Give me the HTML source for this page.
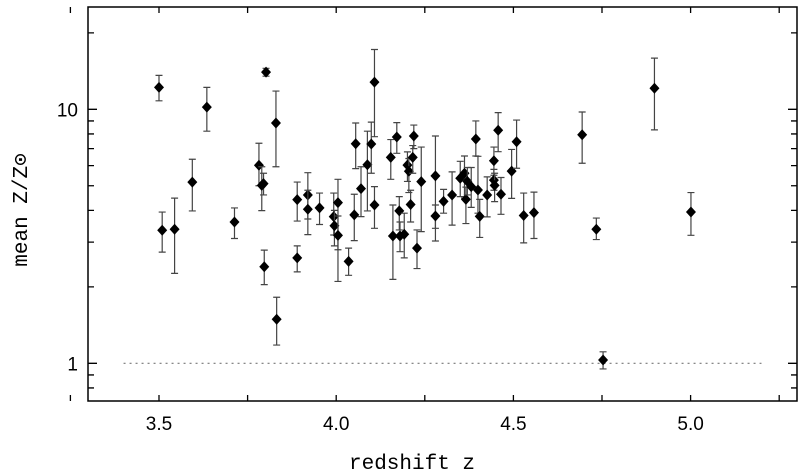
<!DOCTYPE html>
<html><head><meta charset="utf-8"><style>
html,body{margin:0;padding:0;background:#fff;}
svg{display:block;}
.tl{font-family:"Liberation Sans",sans-serif;font-size:19px;fill:#000;}
.at{font-family:"Liberation Mono",monospace;font-size:21px;fill:#000;}
</style></head><body>
<svg id="chart" width="804" height="474" viewBox="0 0 804 474" xmlns="http://www.w3.org/2000/svg">
<g id="grid"></g>
<g id="marks"></g>
<rect x="88" y="7" width="709" height="394" fill="none" stroke="#000" stroke-width="1.5"/>
<text class="at" x="412" y="469" text-anchor="middle">redshift z</text>
<text class="at" transform="translate(27,210) rotate(-90)" text-anchor="middle">mean Z/Z⊙</text>
</svg>
<script>
const redshift=[3.50,3.509,3.544,3.594,3.635,3.713,3.782,3.79,3.795,3.802,3.797,3.830,3.832,3.89,3.89,3.92,3.92,3.953,3.993,3.995,4.005,4.005,4.035,4.051,4.055,4.070,4.088,4.099,4.108,4.108,4.154,4.160,4.171,4.178,4.18,4.192,4.201,4.205,4.21,4.216,4.219,4.228,4.24,4.28,4.28,4.303,4.327,4.350,4.362,4.366,4.37,4.381,4.394,4.40,4.405,4.426,4.445,4.445,4.447,4.457,4.465,4.495,4.509,4.529,4.558,4.694,4.734,4.753,4.898,5.001];
const metal=[12.2,3.34,3.37,5.17,10.2,3.60,6.02,5.02,5.1,14.0,2.40,8.83,1.49,4.41,2.60,4.60,4.04,4.09,3.78,3.48,4.29,3.19,2.52,3.84,7.32,4.87,6.05,7.3,12.8,4.2,6.47,3.17,7.78,3.98,3.17,3.22,6.03,5.7,4.22,6.47,7.85,2.84,5.19,5.47,3.80,4.34,4.6,5.35,5.6,4.42,5.2,4.96,7.64,4.81,3.79,4.6,6.27,5.26,5.02,8.27,4.63,5.71,7.45,3.82,3.92,7.94,3.37,1.03,12.1,3.94];
const errHi=[13.6,3.94,4.47,6.36,12.2,4.09,7.35,5.94,5.6,14.5,2.79,11.8,1.82,5.17,2.90,5.63,4.8,4.68,4.68,4.0,5.3,3.8,2.84,4.63,8.83,5.94,8.2,8.9,17.2,4.96,7.6,4.2,8.86,4.53,3.6,3.9,6.8,6.4,4.8,7.2,8.67,3.35,7.1,7.85,4.2,4.84,5.67,6.24,6.55,4.94,5.9,5.9,9.0,6.53,4.42,5.42,7.1,5.8,5.6,9.7,5.39,6.95,9.07,4.68,4.72,9.76,3.73,1.11,15.9,4.70];
const errLo=[10.8,2.74,2.26,3.98,8.2,3.10,5.0,3.99,4.6,13.5,2.04,5.94,1.18,3.63,2.29,3.70,3.21,3.52,3.2,2.9,2.10,2.8,2.22,3.04,5.84,3.78,3.98,5.6,7.8,3.40,5.3,2.14,6.71,3.35,2.75,2.6,5.2,4.7,3.6,5.6,7.0,2.36,3.3,3.03,3.4,3.9,3.50,4.53,4.47,3.55,4.6,4.11,6.55,3.9,3.13,3.77,5.5,4.8,4.33,6.81,3.86,4.46,5.86,2.98,3.10,6.13,3.07,0.95,8.3,3.19];
const xTicks=[3.5,4.0,4.5,5.0];
const xTickLabels=["3.5","4.0","4.5","5.0"];
const yTicks=[1,10];
const yTickLabels=["1","10"];
const solarLine=[3.4,5.2];

const NS="http://www.w3.org/2000/svg";
const X=v=>159+(v-3.5)*354.4;
const Y=v=>109.3-Math.log10(v/10)*254;
const grid=document.getElementById('grid'), marks=document.getElementById('marks');
function el(t,a,p){const e=document.createElementNS(NS,t);for(const k in a)e.setAttribute(k,a[k]);p.appendChild(e);return e;}
// x ticks (major+minor)
for(let v=3.25;v<=5.26;v+=0.25){
  const x=X(v);
  const t=el('path',{d:`M${x},401V395M${x},7V13`,stroke:'#000','stroke-width':1.3},grid);
  
  
}
xTicks.forEach((v,i)=>{
  const t=el('text',{x:X(v),y:430,'text-anchor':'middle',class:'tl'},grid);
  t.textContent=xTickLabels[i];
  
  
});
// y ticks
[0.8,0.9,1,2,3,4,5,6,7,8,9,10,20].forEach(v=>{
  const y=Y(v);const L=(v===1||v===10)?9:6;
  const t=el('path',{d:`M88,${y}H${88+L}M797,${y}H${797-L}`,stroke:'#000','stroke-width':1.3},grid);
  
  
});
yTicks.forEach((v,i)=>{
  const t=el('text',{x:78,y:Y(v)+7,'text-anchor':'end',class:'tl'},grid);
  t.textContent=yTickLabels[i];
  
  
});
const sl=el('line',{x1:X(solarLine[0]),x2:X(solarLine[1]),y1:Y(1),y2:Y(1),stroke:'#777','stroke-width':1.2,'stroke-dasharray':'2,4'},grid);


redshift.forEach((z,i)=>{
  const x=X(z),y=Y(metal[i]),yh=Y(errHi[i]),yl=Y(errLo[i]);
  const e=el('path',{d:`M${x},${yh}V${yl}M${x-3.5},${yh}H${x+3.5}M${x-3.5},${yl}H${x+3.5}`,stroke:'#444','stroke-width':1.2,fill:'none'},marks);
  
  
  const d=el('path',{d:`M${x},${y-5.5}L${x+5},${y}L${x},${y+5.5}L${x-5},${y}Z`,fill:'#000'},marks);
  
  
});
</script>
</body></html>
